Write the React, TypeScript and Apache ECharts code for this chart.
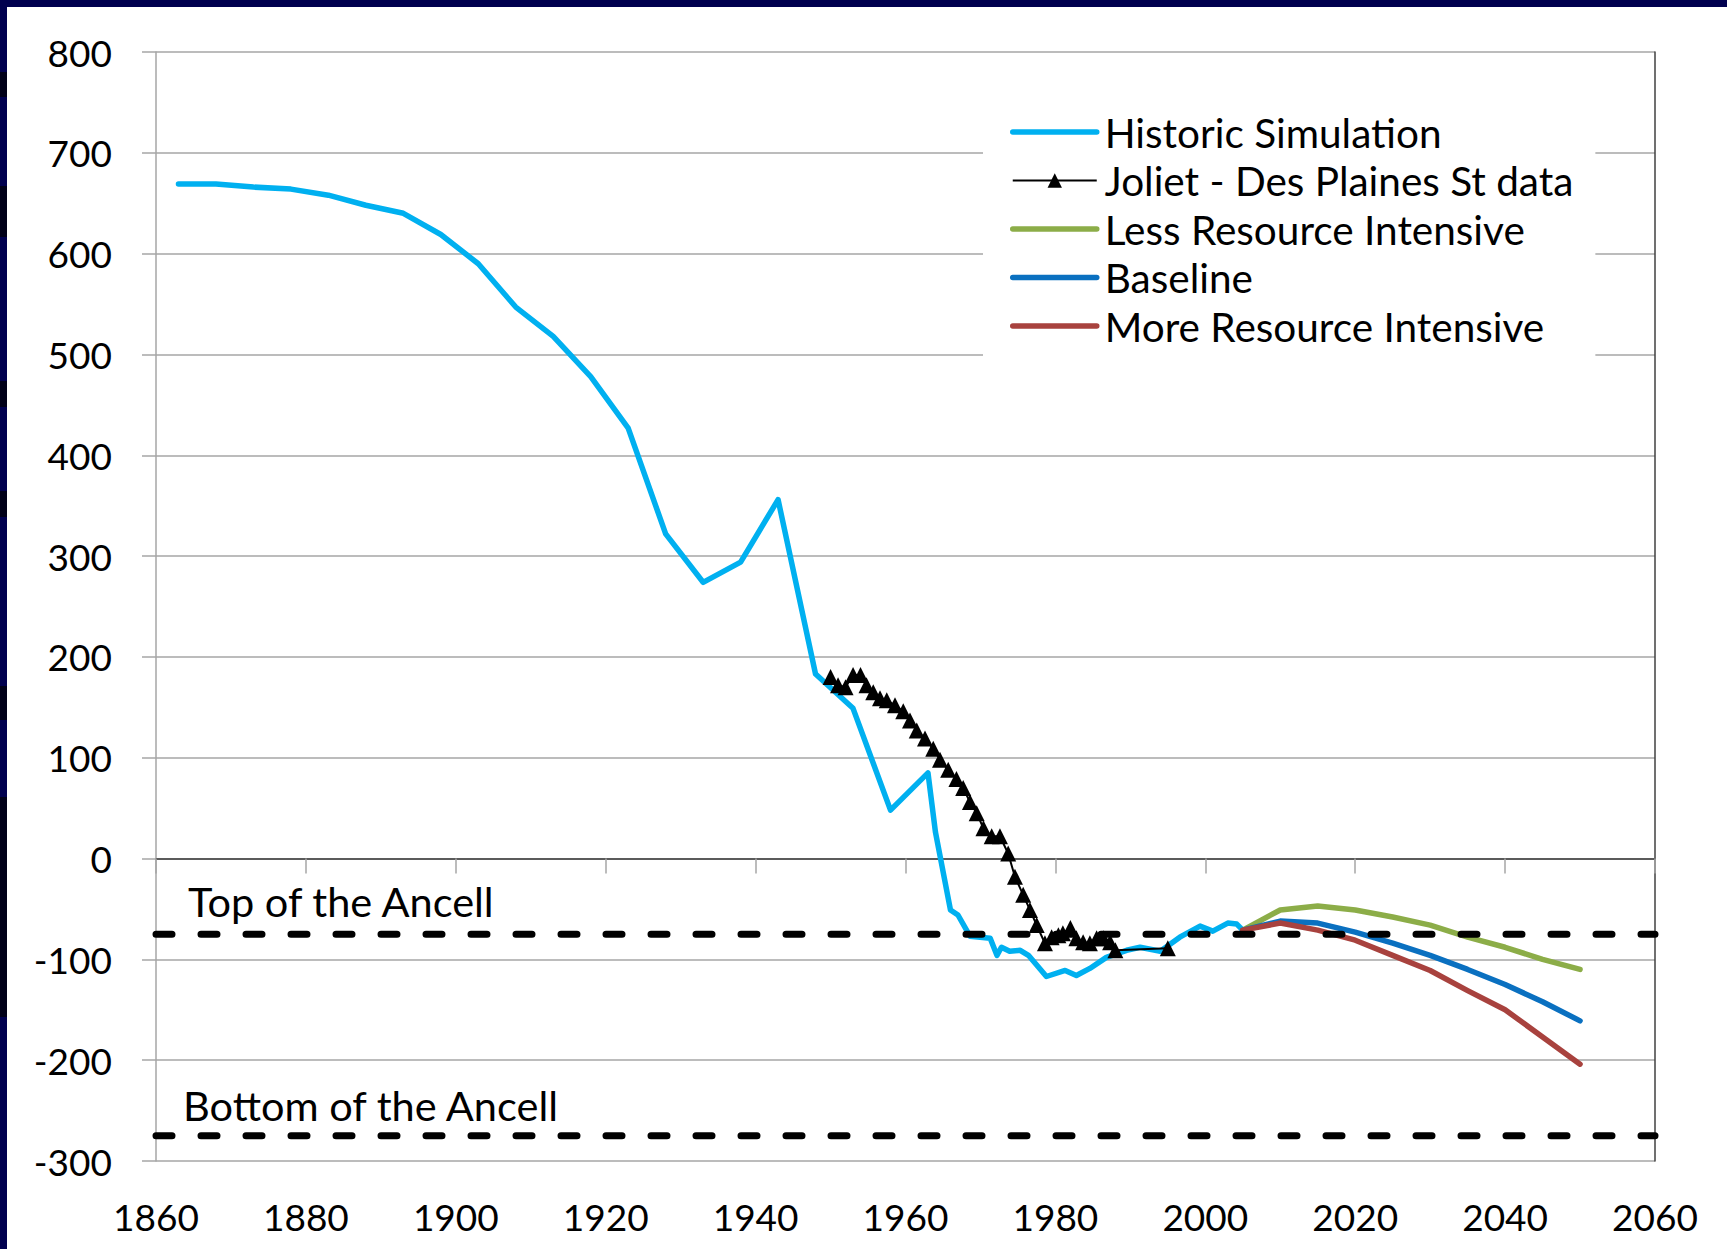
import React, { useEffect, useRef } from "react";
import * as echarts from "echarts";

const seriesNames = [
  "Historic Simulation",
  "Joliet - Des Plaines St data",
  "Less Resource Intensive",
  "Baseline",
  "More Resource Intensive",
];

const historic: [number, number][] = [
  [1863, 669], [1868, 669], [1873, 666], [1878, 664], [1883, 658], [1888, 648],
  [1893, 640], [1898, 619], [1903, 590], [1908, 547], [1913, 518], [1918, 478],
  [1923, 427], [1928, 322], [1933, 274], [1938, 294], [1943, 356], [1948, 183],
  [1953, 149], [1958, 48], [1963, 85], [1964, 26], [1966, -51], [1967, -56],
  [1968.6, -77], [1971.3, -79], [1972.2, -96], [1972.8, -88], [1973.9, -92],
  [1975.3, -91], [1976.4, -96], [1978.8, -117], [1981.3, -111], [1982.8, -116],
  [1984.6, -109], [1986.8, -98], [1989.5, -91], [1991.3, -88], [1994, -92],
  [1996.6, -78], [1999.3, -67], [2001, -72], [2003, -64], [2004.2, -65], [2005, -71],
];

const joliet: [number, number][] = [
  [1950, 180], [1951, 172], [1952, 170], [1953, 182], [1954, 182], [1954.8, 172],
  [1955.7, 165], [1956.6, 159], [1957.5, 157], [1958.6, 152], [1959.7, 146],
  [1960.6, 137], [1961.5, 127], [1962.6, 119], [1963.7, 109], [1964.6, 98],
  [1965.7, 88], [1966.8, 79], [1967.7, 70], [1968.6, 56], [1969.5, 45],
  [1970.4, 30], [1971.5, 22], [1972.6, 22], [1973.7, 5], [1974.6, -18],
  [1975.7, -36], [1976.6, -51], [1977.5, -66], [1978.6, -84], [1979.5, -78],
  [1980.4, -76], [1981, -74], [1982, -69], [1982.8, -79], [1983.7, -83],
  [1984.6, -84], [1985.5, -79], [1986.4, -79], [1987.3, -83], [1988, -91],
  [1995, -89],
];

const projectionYears = [2005, 2010, 2015, 2020, 2025, 2030, 2035, 2040, 2045, 2050];
const lessValues = [-71, -51, -47, -51, -58, -66, -78, -88, -100, -110];
const baselineValues = [-71, -62, -64, -73, -84, -96, -110, -125, -142, -161];
const moreValues = [-71, -64, -71, -81, -96, -111, -131, -150, -177, -204];

const ancellTop = -75;
const ancellBottom = -275;

const xTicks = { min: 1860, max: 2060, interval: 20 };
const yTicks = { min: -300, max: 800, interval: 100 };

const FONT = "Lato";

export default function App() {
  const ref = useRef<HTMLDivElement>(null);

  useEffect(() => {
    document.body.style.margin = "0";
    const chart = echarts.init(ref.current!, null, { renderer: "svg" });
    const pair = (vals: number[]) => projectionYears.map((y, i) => [y, vals[i]]);
    const gray = "#a6a6a6";
    const navy = "#00004f";
    const dashed = (name: string, v: number) => ({
      name,
      type: "line",
      data: [[xTicks.min, v], [xTicks.max, v]],
      symbol: "none",
      silent: true,
      z: 5,
      lineStyle: { color: "#000", width: 7, type: [16, 29], cap: "round" },
    });
    const plainLegend = (name: string) => ({
      name,
      itemStyle: { color: "transparent", borderColor: "transparent", borderWidth: 0 },
    });
    const borderPatches = [
      [72, 25], [186, 51], [381, 26], [491, 26], [686, 34], [797, 220],
    ];
    chart.setOption({
      animation: false,
      backgroundColor: "#fff",
      grid: { left: 156, top: 52, right: 72, bottom: 88 },
      xAxis: [
        {
          type: "value",
          min: xTicks.min,
          max: xTicks.max,
          interval: xTicks.interval,
          axisLine: { show: true, lineStyle: { color: gray, width: 1.5 } },
          axisTick: { show: true, length: 15, lineStyle: { color: gray, width: 1.5 } },
          splitLine: { show: false },
          axisLabel: {
            fontFamily: FONT,
            fontSize: 37,
            color: "#000",
            margin: 37,
            formatter: (v: number) => String(v),
          },
        },
        {
          type: "value",
          position: "top",
          min: xTicks.min,
          max: xTicks.max,
          axisLine: { show: true, lineStyle: { color: "#404040", width: 1.5 } },
          axisTick: { show: false },
          axisLabel: { show: false },
          splitLine: { show: false },
        },
      ],
      yAxis: [
        {
          type: "value",
          min: yTicks.min,
          max: yTicks.max,
          interval: yTicks.interval,
          axisLine: { show: true, lineStyle: { color: gray, width: 1.5 } },
          axisTick: { show: true, length: 14, lineStyle: { color: gray, width: 1.5 } },
          splitLine: { show: true, lineStyle: { color: gray, width: 1.5 } },
          axisLabel: { fontFamily: FONT, fontSize: 37, color: "#000", margin: 44 },
        },
        {
          type: "value",
          position: "right",
          min: yTicks.min,
          max: yTicks.max,
          axisLine: { show: true, lineStyle: { color: "#404040", width: 1.5 } },
          axisTick: { show: false },
          axisLabel: { show: false },
          splitLine: { show: false },
        },
      ],
      legend: {
        data: [
          plainLegend(seriesNames[0]),
          { name: seriesNames[1] },
          plainLegend(seriesNames[2]),
          plainLegend(seriesNames[3]),
          plainLegend(seriesNames[4]),
        ],
        orient: "vertical",
        left: 983,
        top: 101,
        backgroundColor: "#fff",
        padding: [8, 22, 14, 27],
        itemWidth: 84,
        itemHeight: 18,
        itemGap: 2.5,
        lineStyle: { width: "inherit" },
        textStyle: { fontFamily: FONT, fontSize: 40.5, color: "#000", lineHeight: 46, padding: [0, 0, 0, 3] },
      },
      series: [
        {
          name: seriesNames[0],
          type: "line",
          data: historic,
          symbol: "none",
          lineStyle: { color: "#00B0F0", width: 5.5, cap: "round", join: "round" },
          itemStyle: { color: "#00B0F0" },
        },
        {
          name: seriesNames[1],
          type: "line",
          data: joliet,
          symbol: "triangle",
          symbolSize: 16,
          lineStyle: { color: "#000", width: 2 },
          itemStyle: { color: "#000" },
        },
        {
          name: seriesNames[2],
          type: "line",
          data: pair(lessValues),
          symbol: "none",
          lineStyle: { color: "#8CAD48", width: 5.5, cap: "round", join: "round" },
          itemStyle: { color: "#8CAD48" },
        },
        {
          name: seriesNames[3],
          type: "line",
          data: pair(baselineValues),
          symbol: "none",
          lineStyle: { color: "#0A70C0", width: 5.5, cap: "round", join: "round" },
          itemStyle: { color: "#0A70C0" },
        },
        {
          name: seriesNames[4],
          type: "line",
          data: pair(moreValues),
          symbol: "none",
          lineStyle: { color: "#A8423E", width: 5.5, cap: "round", join: "round" },
          itemStyle: { color: "#A8423E" },
        },
        dashed("Top of the Ancell", ancellTop),
        dashed("Bottom of the Ancell", ancellBottom),
      ],
      graphic: [
        { type: "rect", shape: { x: 0, y: 0, width: 1727, height: 7 }, style: { fill: navy }, silent: true },
        { type: "rect", shape: { x: 0, y: 0, width: 7, height: 1249 }, style: { fill: navy }, silent: true },
        ...borderPatches.map(([y, h]) => ({
          type: "rect",
          shape: { x: 0, y, width: 7, height: h },
          style: { fill: "#000018" },
          silent: true,
        })),
        {
          type: "text",
          style: { text: "Top of the Ancell", x: 188, y: 901, fill: "#000", font: `41.5px ${FONT}`, verticalAlign: "middle", align: "left" },
          silent: true,
        },
        {
          type: "text",
          style: { text: "Bottom of the Ancell", x: 183, y: 1105, fill: "#000", font: `41.5px ${FONT}`, verticalAlign: "middle", align: "left" },
          silent: true,
        },
      ],
    });
    return () => chart.dispose();
  }, []);

  return <div ref={ref} style={{ width: 1727, height: 1249, background: "#fff" }} />;
}
